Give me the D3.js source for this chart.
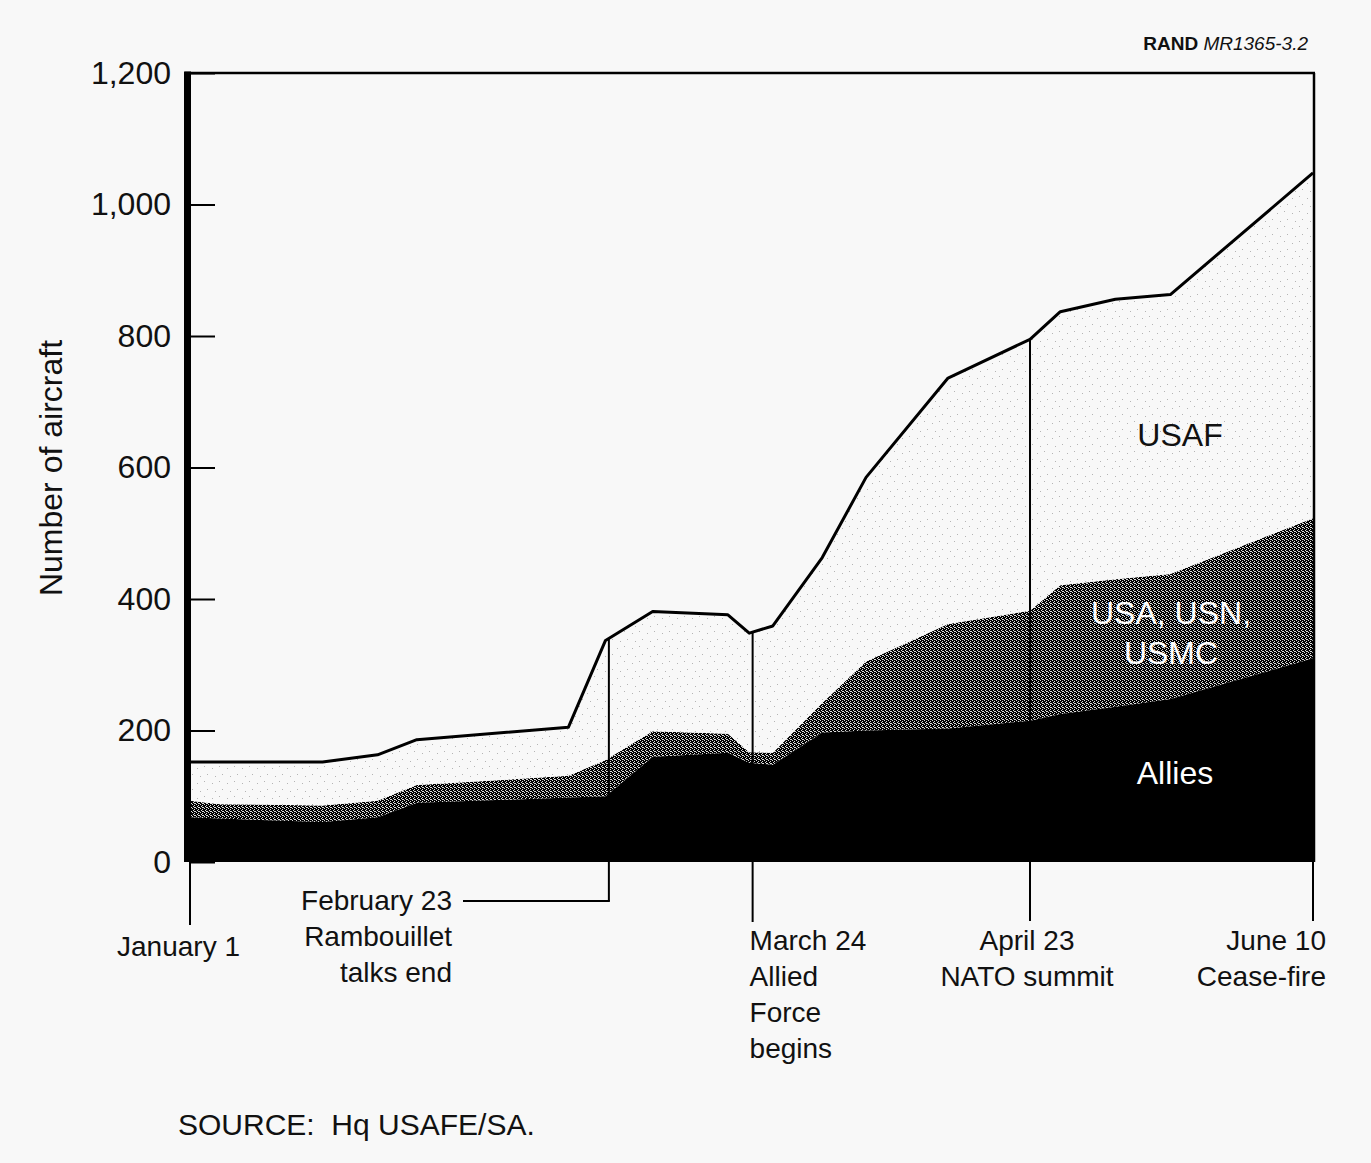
<!DOCTYPE html>
<html><head><meta charset="utf-8">
<script src="https://cdn.jsdelivr.net/npm/d3@7"></script>
<style>
html,body{margin:0;padding:0;background:#f8f8f8;}
svg{display:block;}
text{font-family:"Liberation Sans", Arial, Helvetica, sans-serif; fill:#111;}
</style></head><body>
<svg id="chart" width="1371" height="1163"></svg>
<script>
// ---- data (position along the drawn timeline, 0 = January 1, 100 = June 10) ----
const xPos    = [0, 2.7, 11.8, 16.7, 20.2, 33.7, 37.0, 41.2, 47.9, 49.8, 51.9, 56.3, 60.2, 67.5, 74.8, 77.5, 82.4, 87.3, 100];
const allies  = [68, 66, 61, 68, 90, 98, 100, 160, 166, 151, 148, 197, 200, 203, 215, 225, 236, 248, 310];
const usOther = [25, 22, 25, 25, 27, 33, 55, 39, 29, 16, 18, 45, 105, 159, 167, 196, 194, 190, 213];
const usaf    = [59, 64, 66, 70, 69, 74, 182, 182, 181, 181, 193, 221, 280, 374, 413, 416, 426, 425, 525];
const yTicks  = [0, 200, 400, 600, 800, 1000, 1200];
const eventPos   = [0, 37.3, 50.1, 74.8, 100];
const eventText  = [["January 1"], ["February 23", "Rambouillet", "talks end"], ["March 24", "Allied", "Force", "begins"], ["April 23", "NATO summit"], ["June 10", "Cease-fire"]];
const seriesNames = ["Allies", ["USA, USN,", "USMC"], "USAF"];

const svg = d3.select("#chart");
const x = d3.scaleLinear().domain([0, 100]).range([190, 1313]);
const y = d3.scaleLinear().domain([0, 1200]).range([862, 73]);

// patterns
const defs = svg.append("defs");
const light = defs.append("pattern").attr("id", "light").attr("patternUnits", "userSpaceOnUse")
  .attr("width", 15).attr("height", 15);
light.append("rect").attr("width", 15).attr("height", 15).attr("fill", "#f8f8f8");
[[2,3],[9,1],[12,9],[5,11]].forEach(([a,b]) =>
  light.append("rect").attr("x", a).attr("y", b).attr("width", 1).attr("height", 1).attr("fill", "#b4b4b4"));
const dark = defs.append("pattern").attr("id", "dark").attr("patternUnits", "userSpaceOnUse")
  .attr("width", 4).attr("height", 4);
dark.append("rect").attr("width", 4).attr("height", 4).attr("fill", "#000");
[[0,0],[2,1],[1,2],[3,3],[2,3]].forEach(([a,b]) =>
  dark.append("rect").attr("x", a).attr("y", b).attr("width", 1).attr("height", 1).attr("fill", "#dcdcdc"));

// stacked areas
const table = xPos.map((p, i) => ({pos: p, allies: allies[i], usOther: usOther[i], usaf: usaf[i]}));
const stack = d3.stack().keys(["allies", "usOther", "usaf"])(table);
const area = d3.area().x(d => x(d.data.pos)).y0(d => y(d[0])).y1(d => y(d[1]));
const fills = ["#000", "url(#dark)", "url(#light)"];
svg.selectAll("path.layer").data(stack).join("path").attr("class", "layer")
  .attr("d", area).attr("fill", (d, i) => fills[i]);

// total line
const totals = table.map(d => d.allies + d.usOther + d.usaf);
svg.append("path").datum(table)
  .attr("d", d3.line().x(d => x(d.pos)).y((d, i) => y(totals[i])))
  .attr("fill", "none").attr("stroke", "#000").attr("stroke-width", 3).attr("stroke-linejoin", "round");

function totalAt(p) {
  const i = Math.max(1, d3.bisectRight(xPos, p));
  if (i >= xPos.length) return totals[totals.length - 1];
  const t = (p - xPos[i - 1]) / (xPos[i] - xPos[i - 1]);
  return totals[i - 1] + t * (totals[i] - totals[i - 1]);
}

// event lines inside plot
[1, 2, 3].forEach(k => {
  svg.append("line").attr("x1", x(eventPos[k])).attr("x2", x(eventPos[k]))
    .attr("y1", y(totalAt(eventPos[k]))).attr("y2", y(0))
    .attr("stroke", "#000").attr("stroke-width", 2);
});

// frame
svg.append("line").attr("x1", 185).attr("x2", 1315).attr("y1", y(1200)).attr("y2", y(1200))
  .attr("stroke", "#000").attr("stroke-width", 2.5);
svg.append("line").attr("x1", x(100) + 1).attr("x2", x(100) + 1).attr("y1", y(1200)).attr("y2", y(0))
  .attr("stroke", "#000").attr("stroke-width", 2.5);
svg.append("line").attr("x1", 187.5).attr("x2", 187.5).attr("y1", y(1200) - 1.5).attr("y2", y(0))
  .attr("stroke", "#000").attr("stroke-width", 7);

// y axis
const yAxis = svg.append("g").attr("transform", "translate(191,0)")
  .call(d3.axisLeft(y).tickValues(yTicks).tickSize(-24).tickPadding(20).tickFormat(d3.format(",")));
yAxis.select(".domain").remove();
yAxis.selectAll(".tick line").attr("stroke", "#000").attr("stroke-width", 2);
yAxis.selectAll(".tick text").attr("font-size", 32).attr("fill", "#111")
  .attr("font-family", "'Liberation Sans', Arial, sans-serif");

svg.append("text").attr("transform", "translate(62,468) rotate(-90)")
  .attr("text-anchor", "middle").attr("font-size", 32).text("Number of aircraft");

// event markers below axis
const markerEnd = [925, 901, 922, 921, 921];
eventPos.forEach((p, k) => {
  svg.append("line").attr("x1", x(p)).attr("x2", x(p)).attr("y1", y(0)).attr("y2", markerEnd[k])
    .attr("stroke", "#000").attr("stroke-width", 2);
});
svg.append("line").attr("x1", 463).attr("x2", x(eventPos[1]) + 1).attr("y1", 901).attr("y2", 901)
  .attr("stroke", "#000").attr("stroke-width", 2);

const labelLayout = [
  {x: x(eventPos[0]) + 50, y: 956, anchor: "end"},
  {x: 452, y: 910, anchor: "end"},
  {x: x(eventPos[2]) - 3, y: 950, anchor: "start"},
  {x: x(eventPos[3]) - 3, y: 950, anchor: "middle"},
  {x: x(eventPos[4]) + 13, y: 950, anchor: "end"}
];
eventText.forEach((lines, k) => {
  const L = labelLayout[k];
  const t = svg.append("text").attr("text-anchor", L.anchor).attr("font-size", 28);
  lines.forEach((s, j) => t.append("tspan").attr("x", L.x).attr("y", L.y + j * 36).text(s));
});

// series labels
svg.append("text").attr("x", 1180).attr("y", 446).attr("text-anchor", "middle")
  .attr("font-size", 32).text(seriesNames[2]);
const mid = svg.append("text").attr("text-anchor", "middle").attr("font-size", 32).style("fill", "#fff");
seriesNames[1].forEach((s, j) => mid.append("tspan").attr("x", 1171).attr("y", 624 + j * 40).text(s));
svg.append("text").attr("x", 1175).attr("y", 784).attr("text-anchor", "middle")
  .attr("font-size", 32).style("fill", "#fff").text(seriesNames[0]);

// header & source
const hdr = svg.append("text").attr("x", 1308).attr("y", 50).attr("text-anchor", "end").attr("font-size", 19);
hdr.append("tspan").attr("font-weight", "bold").text("RAND ");
hdr.append("tspan").attr("font-style", "italic").text("MR1365-3.2");
svg.append("text").attr("x", 178).attr("y", 1135).attr("font-size", 30)
  .attr("xml:space", "preserve").style("white-space", "pre").text("SOURCE:  Hq USAFE/SA.");
</script>
</body></html>
